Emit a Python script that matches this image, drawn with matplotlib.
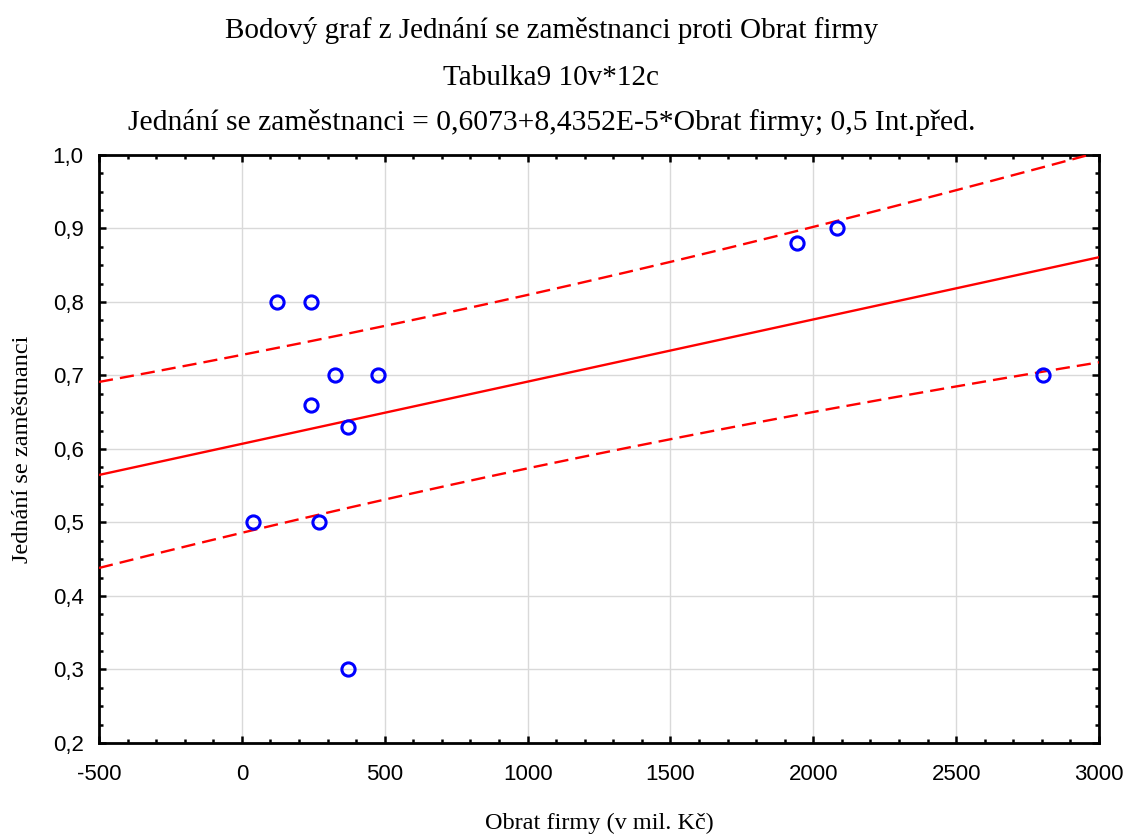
#!/usr/bin/env python3

import numpy as np
import matplotlib
matplotlib.use("Agg")
import matplotlib.pyplot as plt
from matplotlib.ticker import MultipleLocator, FuncFormatter


# Obrat firmy (v mil. Kč) and Jednání se zaměstnanci
obrat = [123, 242, 326, 476, 242, 371, 39, 270, 371, 1943, 2083, 2804]
jednani = [0.80, 0.80, 0.70, 0.70, 0.66, 0.63, 0.50, 0.50, 0.30, 0.88, 0.90, 0.70]

X_RANGE = (-500, 3000)
Y_RANGE = (0.2, 1.0)
T_075_DF10 = 0.6998  # t quantile for a 0,5 prediction interval, df = n - 2

TITLE_LINES = [
    "Bodový graf z Jednání se zaměstnanci proti Obrat firmy",
    "Tabulka9 10v*12c",
    "Jednání se zaměstnanci = 0,6073+8,4352E-5*Obrat firmy; 0,5 Int.před.",
]


def comma(v, _pos):
    return f"{v:.1f}".replace(".", ",")


def main() -> None:
    plt.rcParams["axes.unicode_minus"] = False

    x = np.array(obrat, dtype=float)
    y = np.array(jednani, dtype=float)
    n = len(x)

    slope, intercept = np.polyfit(x, y, 1)
    resid = y - (intercept + slope * x)
    s = np.sqrt(np.sum(resid ** 2) / (n - 2))
    sxx = np.sum((x - x.mean()) ** 2)

    xs = np.linspace(X_RANGE[0], X_RANGE[1], 200)
    fit = intercept + slope * xs
    half = T_075_DF10 * s * np.sqrt(1 + 1 / n + (xs - x.mean()) ** 2 / sxx)

    fig = plt.figure(figsize=(11.25, 8.35), dpi=100)
    ax = fig.add_axes([0.088, 0.1102, 0.8889, 0.7042])

    ax.plot(xs, fit, color="#ff0000", lw=1.7, zorder=3)
    for band in (fit + half, fit - half):
        ax.plot(xs, band, color="#ff0000", lw=1.7, dashes=(6, 3), zorder=3)

    ax.plot(x, y, "o", mfc="none", mec="#0000ff", ms=9.5, mew=2.2,
            zorder=4, clip_on=False)

    ax.set_xlim(*X_RANGE)
    ax.set_ylim(*Y_RANGE)
    ax.xaxis.set_major_locator(MultipleLocator(500))
    ax.xaxis.set_minor_locator(MultipleLocator(100))
    ax.yaxis.set_major_locator(MultipleLocator(0.1))
    ax.yaxis.set_minor_locator(MultipleLocator(0.025))
    ax.yaxis.set_major_formatter(FuncFormatter(comma))

    ax.tick_params(which="both", direction="in", top=True, right=True,
                   labelsize=16, width=1.8)
    ax.tick_params(which="major", length=5)
    ax.tick_params(which="minor", length=3)
    ax.tick_params(axis="x", pad=15)
    ax.tick_params(axis="y", pad=11)
    for lbl in ax.get_xticklabels() + ax.get_yticklabels():
        lbl.set_family("Liberation Sans")

    for sp in ax.spines.values():
        sp.set_linewidth(2.0)

    ax.grid(which="major", color="#d9d9d9", lw=1.0, zorder=0)
    ax.set_axisbelow(True)

    serif = "Liberation Serif"
    ax.set_xlabel("Obrat firmy (v mil. Kč)", family=serif, fontsize=17.5,
                  va="center")
    ax.xaxis.set_label_coords(0.5, -0.136)
    ax.set_ylabel("Jednání se zaměstnanci", family=serif, fontsize=17.5,
                  labelpad=14)

    ys = [0.963, 0.907, 0.853]
    sizes = [21, 21, 21.3]
    for txt, ypos, fs in zip(TITLE_LINES, ys, sizes):
        fig.text(0.49, ypos, txt, ha="center", va="center", family=serif,
                 fontsize=fs)

    fig.savefig("out.png", dpi=100)
    plt.close(fig)


if __name__ == "__main__":
    main()
